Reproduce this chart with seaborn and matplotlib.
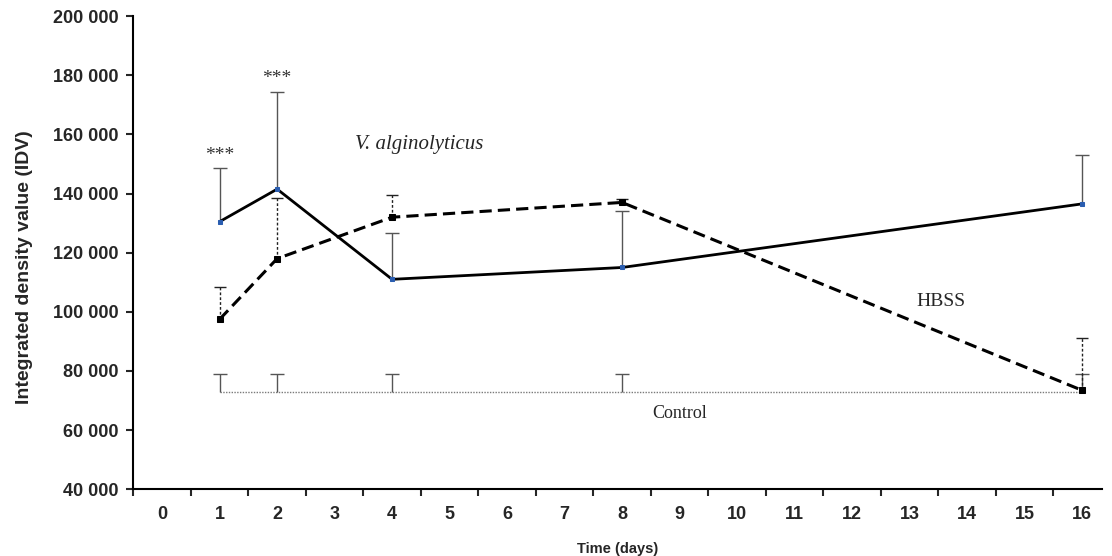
import matplotlib
matplotlib.use("Agg")
import matplotlib.pyplot as plt
import seaborn as sns
import numpy as np
from matplotlib.ticker import FuncFormatter, FixedLocator

# data
days = [1, 2, 4, 8, 16]
vibrio_mean = [130500, 141500, 111000, 115000, 136500]
vibrio_err = [18000, 33000, 15500, 19000, 16500]
hbss_mean = [97500, 118000, 132000, 137000, 73500]
hbss_err = [11000, 20500, 7500, 1000, 17500]
control_mean = [73000, 73000, 73000, 73000, 73000]
control_err = [6000, 6000, 6000, 6000, 6000]
xticks = list(range(0, 17))

sns.set_style("ticks")
plt.rcParams["font.family"] = ["Liberation Sans", "DejaVu Sans"]

fig = plt.figure(figsize=(11.12, 5.56), dpi=100)
ax = fig.add_axes([0.12, 0.12, 0.871, 0.851])

zeros = np.zeros(len(days))


def upper_bars(mean, err, color, cap, style=None, z=3):
    eb = ax.errorbar(days, mean, yerr=[zeros, err], fmt="none", ecolor=color,
                     elinewidth=1.0, capsize=cap, capthick=1.0, zorder=z)
    # only keep the upper caps
    eb.lines[1][0].set_visible(False)
    if style is not None:
        eb.lines[2][0].set_linestyle(style)
    return eb


# control: dotted line with grey error bars
sns.lineplot(x=days, y=control_mean, ax=ax, color="#7a7a7a", linewidth=1.0,
             linestyle=(0, (1, 1)), zorder=2)
upper_bars(control_mean, control_err, "#555555", 5, z=2)

# HBSS: dashed line, dotted error bars
upper_bars(hbss_mean, hbss_err, "#222222", 4, style=(0, (2, 1.5)))
sns.lineplot(x=days, y=hbss_mean, ax=ax, color="black", linewidth=2.2,
             linestyle=(0, (4, 2)), marker="s", markersize=4,
             markerfacecolor="black", markeredgecolor="black", zorder=4)

# V. alginolyticus: solid line, grey error bars
upper_bars(vibrio_mean, vibrio_err, "#555555", 5)
sns.lineplot(x=days, y=vibrio_mean, ax=ax, color="black", linewidth=2.0,
             marker="s", markersize=3.5, markerfacecolor="#2a5db0",
             markeredgecolor="#2a5db0", zorder=5)

# significance stars and labels
ax.text(1, 150000, "***", ha="center", va="bottom", fontsize=14,
        family="Liberation Serif", color="#333333")
ax.text(2, 176000, "***", ha="center", va="bottom", fontsize=14,
        family="Liberation Serif", color="#333333")
ax.text(3.35, 156500, "V. alginolyticus", ha="left", va="center", fontsize=15,
        family="Liberation Serif", style="italic")
ax.text(13.55, 103500, "HBSS", ha="center", va="center", fontsize=14,
        family="Liberation Serif")
ax.text(9.0, 65500, "Control", ha="center", va="center", fontsize=13,
        family="Liberation Serif")

ax.set_xlim(-0.5, 16.35)
ax.set_ylim(40000, 200000)
ax.set_yticks(np.arange(40000, 200001, 20000))
ax.yaxis.set_major_formatter(FuncFormatter(lambda v, p: f"{int(v):,}".replace(",", " ")))
ax.set_xticks(xticks)
ax.set_xticklabels([str(t) for t in xticks])
ax.xaxis.set_minor_locator(FixedLocator(np.arange(-0.5, 16.0, 1.0)))
ax.tick_params(axis="x", which="major", length=0, pad=12, labelsize=13)
ax.tick_params(axis="x", which="minor", length=5, width=1.5, direction="out")
ax.tick_params(axis="y", length=5, width=1.5, direction="out", labelsize=13, pad=6)
for lab in ax.get_xticklabels() + ax.get_yticklabels():
    lab.set_fontweight("bold")

ax.set_ylabel("Integrated density value (IDV)", fontsize=14, fontweight="bold")
ax.yaxis.set_label_coords(-0.104, 0.47)
ax.set_xlabel("Time (days)", fontsize=10.5, fontweight="bold", labelpad=14)

sns.despine(ax=ax)
for s in ["left", "bottom"]:
    ax.spines[s].set_linewidth(1.5)
    ax.spines[s].set_color("black")

fig.savefig("out.png", dpi=100)
